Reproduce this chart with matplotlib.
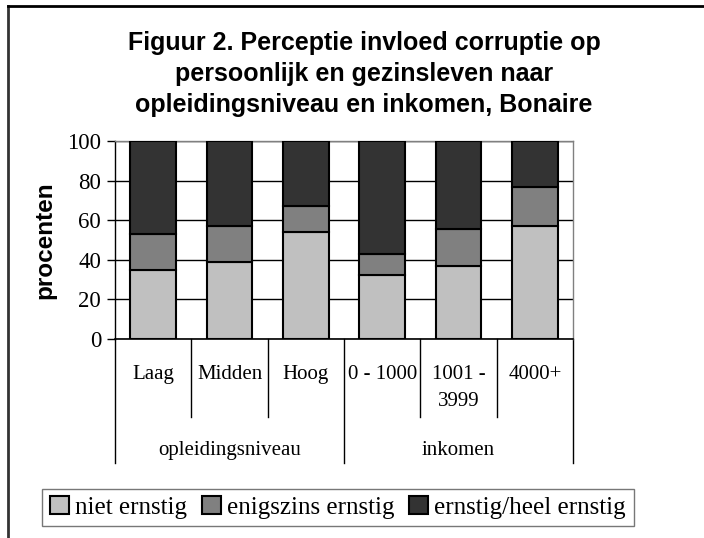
import matplotlib
matplotlib.use("Agg")
import matplotlib.pyplot as plt
from matplotlib.lines import Line2D
from matplotlib.patches import Patch
import matplotlib.transforms as mtransforms
import numpy as np

title_lines = ["Figuur 2. Perceptie invloed corruptie op",
               "persoonlijk en gezinsleven naar",
               "opleidingsniveau en inkomen, Bonaire"]
categories = ["Laag", "Midden", "Hoog", "0 - 1000", "1001 -\n3999", "4000+"]
groups = ["opleidingsniveau", "inkomen"]
group_sizes = [3, 3]
series_names = ["niet ernstig", "enigszins ernstig", "ernstig/heel ernstig"]
niet = [35, 39, 54, 32.5, 37, 57]
enigszins = [18, 18, 13, 10.5, 18.5, 20]
ernstig = [47, 43, 33, 57, 44.5, 23]
yticks = [0, 20, 40, 60, 80, 100]
colors = ["#C0C0C0", "#808080", "#333333"]

W, H = 704, 538
fig = plt.figure(figsize=(W / 100, H / 100), dpi=100)
ax = fig.add_axes([115 / W, 1 - 339 / H, (573 - 115) / W, (339 - 141) / H])

serif = "Liberation Serif"
sans = "Liberation Sans"

x = np.arange(len(categories))
bottom = np.zeros(len(categories))
for vals, c, name in zip([niet, enigszins, ernstig], colors, series_names):
    ax.bar(x, vals, width=0.6, bottom=bottom, color=c, edgecolor="black",
           linewidth=1.5, label=name, zorder=3)
    bottom += np.array(vals)

ax.set_xlim(-0.5, len(categories) - 0.5)
ax.set_ylim(0, 100)
ax.set_yticks(yticks)
ax.set_yticklabels([str(t) for t in yticks], fontfamily=serif, fontsize=16.5)
ax.yaxis.grid(True, color="black", linewidth=1.0, zorder=0)
ax.set_xticks([])
ax.tick_params(axis="y", direction="out", length=6, width=1, pad=4)
for s in ["top", "right"]:
    ax.spines[s].set_color("#808080")
    ax.spines[s].set_linewidth(1.0)
ax.spines["left"].set_linewidth(1.0)
ax.spines["bottom"].set_linewidth(1.2)
ax.set_ylabel("procenten", fontfamily=sans, fontweight="bold", fontsize=17.5, labelpad=8)

trans = mtransforms.blended_transform_factory(ax.transData, ax.transAxes)
ax_h = 339 - 141
cat_line = -(417 - 339) / ax_h
grp_line = -(463 - 339) / ax_h
group_edges = [-0.5] + [sum(group_sizes[:k]) - 0.5 for k in range(1, len(group_sizes) + 1)]
for i in range(len(categories) + 1):
    xpos = i - 0.5
    yend = grp_line if xpos in group_edges else cat_line
    ax.add_line(Line2D([xpos, xpos], [0, yend], transform=trans, color="black",
                       linewidth=1.0, clip_on=False))
for i, lab in enumerate(categories):
    ax.text(i, -(365 - 339) / ax_h, lab, transform=trans, ha="center", va="top",
            fontfamily=serif, fontsize=15, linespacing=1.6)
start = 0
for g, n in zip(groups, group_sizes):
    ax.text(start + (n - 1) / 2, -(441 - 339) / ax_h, g, transform=trans, ha="center",
            va="top", fontfamily=serif, fontsize=15)
    start += n

# title
for k, line in enumerate(title_lines):
    fig.text(364 / W, 1 - (50 + 31 * k) / H, line, ha="center", va="baseline", fontfamily=sans,
             fontweight="bold", fontsize=18)

# legend
handles = [Patch(facecolor=c, edgecolor="black", linewidth=1.5) for c in colors]
leg = fig.legend(handles, series_names, loc="center", bbox_to_anchor=(338 / W, 1 - 507.5 / H),
                 ncol=3, frameon=True, fancybox=False, prop={"family": serif, "size": 18},
                 handlelength=0.75, handleheight=0.75, handletextpad=0.25, columnspacing=0.6,
                 borderpad=0.3, borderaxespad=0)
leg.get_frame().set_edgecolor("#555555")
leg.get_frame().set_linewidth(1.0)

# outer frame
fig.add_artist(Line2D([8 / W, 8 / W], [1 - 6 / H, 0], transform=fig.transFigure, color="#333333", linewidth=2))
fig.add_artist(Line2D([8 / W, 1], [1 - 6 / H, 1 - 6 / H], transform=fig.transFigure, color="black", linewidth=2))

fig.savefig("out.png", dpi=100)
